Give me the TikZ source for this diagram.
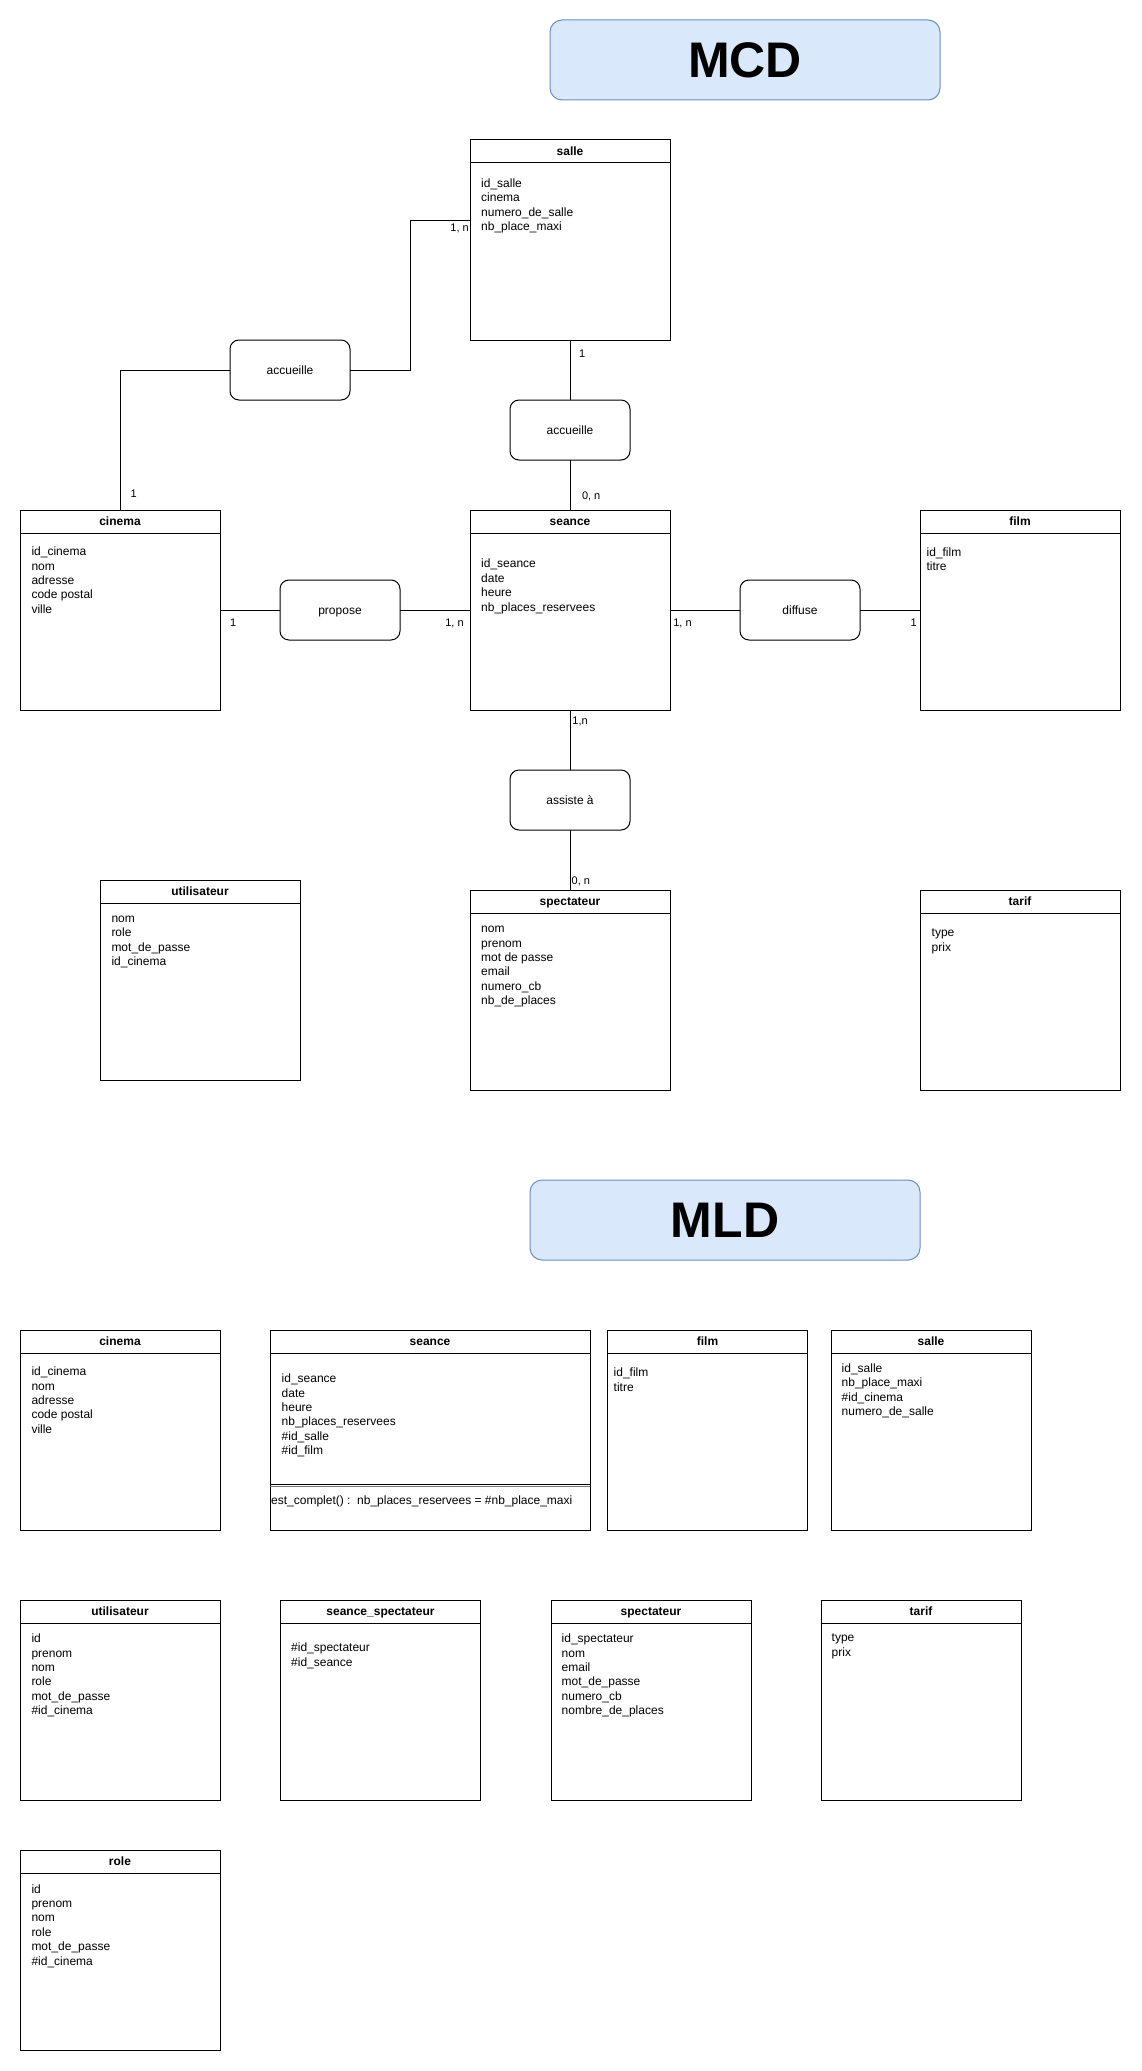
\documentclass[tikz,border=0pt]{standalone}
\usepackage{fontspec}
\setmainfont{Liberation Sans}
\usetikzlibrary{calc}
\definecolor{titlefill}{HTML}{DAE8FC}
\definecolor{titleborder}{HTML}{6C8EBF}
\tikzset{
  entbox/.style={draw=black, line width=1pt, inner sep=0pt, outer sep=0pt, anchor=north west, minimum height=200pt},
  hdr/.style={font=\fontsize{12}{14.4}\selectfont\bfseries, inner sep=0pt, anchor=base},
  attr/.style={font=\fontsize{12}{14.4}\selectfont, inner sep=0pt, anchor=base west},
  relbox/.style={draw=black, line width=1pt, rounded corners=9pt, minimum width=120pt, minimum height=60pt, inner sep=0pt, outer sep=0pt, font=\fontsize{12}{14.4}\selectfont, text height=10.5pt, text depth=2.5pt},
  titlebox/.style={draw=titleborder, fill=titlefill, line width=1pt, rounded corners=12pt, minimum width=390pt, minimum height=80pt, inner sep=0pt, outer sep=0pt, font=\fontsize{50}{60}\selectfont\bfseries, text height=35.8pt, text depth=0pt},
  conn/.style={draw=black, line width=1pt},
  card/.style={font=\fontsize{11}{13}\selectfont, inner sep=0pt},
}
\newcommand\mkentity[5]{%
  \node[entbox, minimum width=#4] (#1) at (#2,#3) {};
  \draw[line width=1pt] ($(#1.north west)+(0,23)$) -- ($(#1.north east)+(0,23)$);
  \node[hdr] (#1-t) at ($(#1.north)+(0,15.5)$) {#5};
}
\newcommand\mkattrs[4]{%
  \foreach \txt [count=\i from 0] in {#4} {
    \node[attr] (#1-a\i) at ({#2},{#3+14.4*\i+4}) {\txt};
  }
}
\begin{document}
\begin{tikzpicture}[x=1pt,y=-1pt]
\useasboundingbox (0,0) rectangle (1141,2071);
\fill[white] (0,0) rectangle (1141,2071);

% ---------- MCD ----------
\node[titlebox] (mcd) at (745,60) {MCD};

\mkentity{mcd-salle}{470}{140}{200pt}{salle}
\mkattrs{mcd-salle}{481}{183.6}{id\_salle, cinema, numero\_de\_salle, nb\_place\_maxi}

\mkentity{mcd-cinema}{20}{510}{200pt}{cinema}
\mkattrs{mcd-cinema}{31.3}{551.6}{id\_cinema, nom, adresse, code postal, ville}

\mkentity{mcd-seance}{470}{510}{200pt}{seance}
\mkattrs{mcd-seance}{481}{563.9}{id\_seance, date, heure, nb\_places\_reservees}

\mkentity{mcd-film}{920}{510}{200pt}{film}
\mkattrs{mcd-film}{926.4}{552.5}{id\_film, titre}

\mkentity{mcd-util}{100}{880}{200pt}{utilisateur}
\mkattrs{mcd-util}{111.3}{918.5}{nom, role, mot\_de\_passe, id\_cinema}

\mkentity{mcd-spect}{470}{890}{200pt}{spectateur}
\mkattrs{mcd-spect}{481}{928.6}{nom, prenom, mot de passe, email, numero\_cb, nb\_de\_places}

\mkentity{mcd-tarif}{920}{890}{200pt}{tarif}
\mkattrs{mcd-tarif}{931.5}{932.6}{type, prix}

% relations
\node[relbox] (r-acc1) at (290,370) {accueille};
\node[relbox] (r-acc2) at (570,430) {accueille};
\node[relbox] (r-prop) at (340,610) {propose};
\node[relbox] (r-diff) at (800,610) {diffuse};
\node[relbox] (r-ass) at (570,800) {assiste à};

% connectors
\draw[conn] (r-acc1.west) -| (mcd-cinema.north);
\draw[conn] (r-acc1.east) -- ++(60,0) |- ($(mcd-salle.north west)+(0,80)$);
\draw[conn] (mcd-salle.south) -- (r-acc2.north);
\draw[conn] (r-acc2.south) -- (mcd-seance.north);
\draw[conn] (mcd-cinema.east) -- (r-prop.west);
\draw[conn] (r-prop.east) -- (mcd-seance.west);
\draw[conn] (mcd-seance.east) -- (r-diff.west);
\draw[conn] (r-diff.east) -- (mcd-film.west);
\draw[conn] (mcd-seance.south) -- (r-ass.north);
\draw[conn] (r-ass.south) -- (mcd-spect.north);

% cardinalities
\node[card, anchor=base west] (k1) at (130.5,497.4) {1};
\node[card, anchor=base east] (k2) at (469,231.5) {1, n};
\node[card, anchor=base west] (k3) at (578.8,357) {1};
\node[card, anchor=base west] (k4) at (581.8,499.6) {0, n};
\node[card, anchor=base west] (k5) at (229.9,626.2) {1};
\node[card, anchor=base west] (k6) at (445.1,626.2) {1, n};
\node[card, anchor=base west] (k7) at (673.1,626.2) {1, n};
\node[card, anchor=base west] (k8) at (910.5,626.2) {1};
\node[card, anchor=base west] (k9) at (572.2,724) {1,n};
\node[card, anchor=base west] (k10) at (571.5,884.8) {0, n};

% ---------- MLD ----------
\node[titlebox] (mld) at (725,1220) {MLD};

\mkentity{mld-cinema}{20}{1330}{200pt}{cinema}
\mkattrs{mld-cinema}{31.3}{1371.6}{id\_cinema, nom, adresse, code postal, ville}

\mkentity{mld-seance}{270}{1330}{320pt}{seance}
\mkattrs{mld-seance}{281.5}{1378.7}{id\_seance, date, heure, nb\_places\_reservees, \#id\_salle, \#id\_film}
\draw[line width=1pt] ($(mld-seance.north west)+(0,154.5)$) -- ($(mld-seance.north east)+(0,154.5)$);
\draw[line width=1.6pt, black!55] ($(mld-seance.north west)+(0,156.3)$) -- ($(mld-seance.north east)+(0,156.3)$);
\node[attr] (mld-seance-m) at (271,1504) {est\_complet() :\ \ nb\_places\_reservees = \#nb\_place\_maxi};

\mkentity{mld-film}{607.5}{1330}{200pt}{film}
\mkattrs{mld-film}{613.5}{1372.7}{id\_film, titre}

\mkentity{mld-salle}{831}{1330}{200pt}{salle}
\mkattrs{mld-salle}{841.5}{1368.3}{id\_salle, nb\_place\_maxi, \#id\_cinema, numero\_de\_salle}

\mkentity{mld-util}{20}{1600}{200pt}{utilisateur}
\mkattrs{mld-util}{31.3}{1638.7}{id, prenom, nom, role, mot\_de\_passe, \#id\_cinema}

\mkentity{mld-ss}{280.5}{1600}{200pt}{seance\_spectateur}
\mkattrs{mld-ss}{291}{1647.6}{\#id\_spectateur, \#id\_seance}

\mkentity{mld-spect}{551}{1600}{200pt}{spectateur}
\mkattrs{mld-spect}{561.5}{1638.7}{id\_spectateur, nom, email, mot\_de\_passe, numero\_cb, nombre\_de\_places}

\mkentity{mld-tarif}{821}{1600}{200pt}{tarif}
\mkattrs{mld-tarif}{831.5}{1637.8}{type, prix}

\mkentity{mld-role}{20}{1850}{200pt}{role}
\mkattrs{mld-role}{31.3}{1889.1}{id, prenom, nom, role, mot\_de\_passe, \#id\_cinema}

\end{tikzpicture}
\end{document}
